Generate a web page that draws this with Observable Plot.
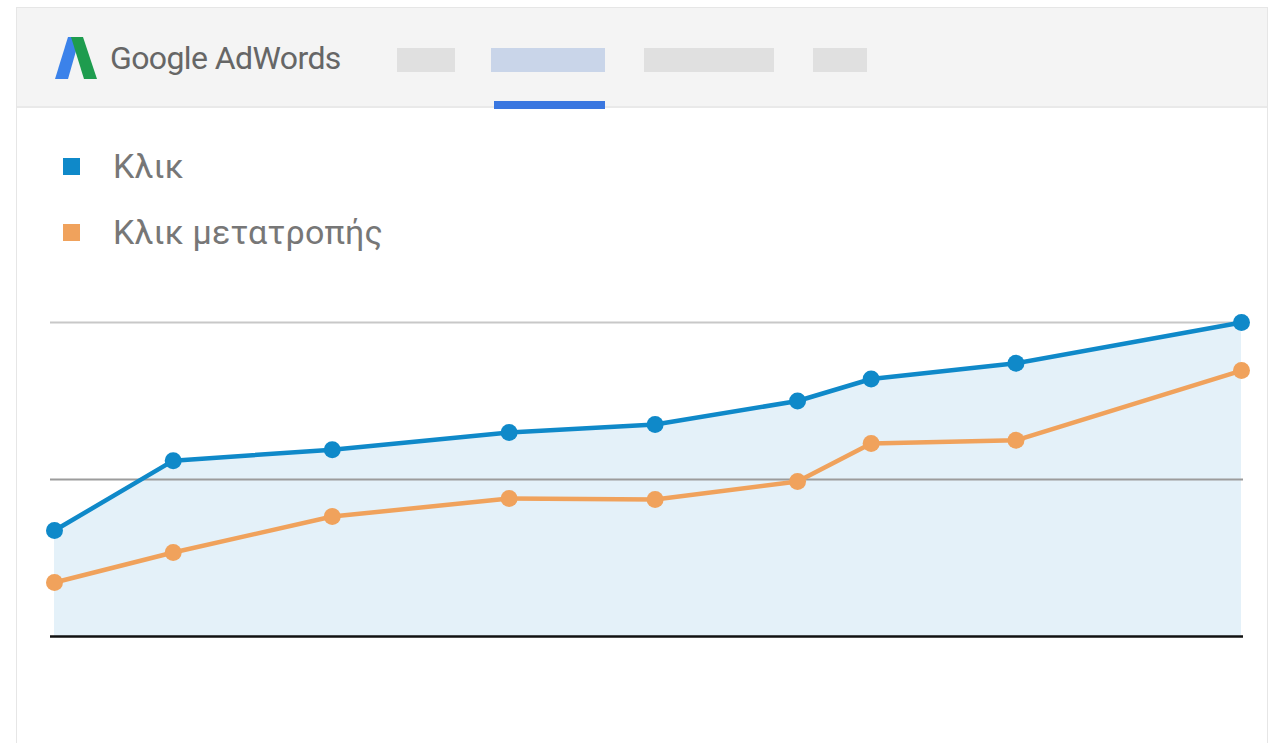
<!DOCTYPE html>
<html>
<head>
<meta charset="utf-8">
<script src="https://cdn.jsdelivr.net/npm/d3@7"></script>
<script src="https://cdn.jsdelivr.net/npm/@observablehq/plot@0.6"></script>
<style>
  html, body { margin: 0; padding: 0; background: #fff; width: 1276px; height: 743px; overflow: hidden; font-family: Roboto, "Noto Sans", sans-serif; }
  #card { position: absolute; left: 16px; top: 7px; width: 1252px; height: 760px; border: 1px solid #e6e6e6; box-sizing: border-box; background: #fff; }
  #header { position: absolute; left: 17px; top: 8px; width: 1250px; height: 98px; background: #f4f4f4; border-bottom: 2px solid #e9e9e9; }
  .ph { position: absolute; top: 48px; height: 24px; background: #e0e0e0; }
  #brand { position: absolute; left: 110px; top: 38px; font-size: 32px; color: #666; letter-spacing: -0.6px; line-height: 40px; }
  #tabline { position: absolute; left: 494px; top: 101px; width: 111px; height: 8px; background: #3a77e0; }
  .leg { position: absolute; left: 63px; display: flex; align-items: center; }
  .leg .sw { width: 17px; height: 17px; margin-right: 33px; }
  .leg .tx { font-size: 34px; color: #777; line-height: 40px; letter-spacing: 0.2px; }
  #chart { position: absolute; left: 0; top: 290px; }
</style>
</head>
<body>
<div id="card"></div>
<div id="header"></div>
<svg style="position:absolute;left:54px;top:36px" width="46" height="46" viewBox="0 0 46 46">
  <polygon points="1,43 14,1 26,1 14,43" fill="#3b82ea"/>
  <polygon points="17,1 29,1 43,43 30,43" fill="#1e9c4e"/>
</svg>
<div id="brand">Google AdWords</div>
<div class="ph" style="left:397px;width:58px"></div>
<div class="ph" style="left:491px;width:114px;background:#c9d5e9"></div>
<div class="ph" style="left:644px;width:130px"></div>
<div class="ph" style="left:813px;width:54px"></div>
<div id="tabline"></div>
<div class="leg" style="top:146px"><div class="sw" style="background:#0f89c9"></div><div class="tx">Κλικ</div></div>
<div class="leg" style="top:212px"><div class="sw" style="background:#f0a25c"></div><div class="tx">Κλικ μετατροπής</div></div>
<div id="chart"></div>
<script>
const periods = [0, 1.0, 2.34, 3.83, 5.06, 6.26, 6.88, 8.1, 10];
const clicks = [67.5, 112, 119, 130, 135, 150, 164, 174, 200];
const conversions = [34.4, 53.5, 76.4, 87.9, 87.3, 98.7, 123, 125, 169.4];
const gridValues = [100, 200];
const seriesNames = ["Κλικ", "Κλικ μετατροπής"];

const clickData = periods.map((p, i) => ({p, v: clicks[i], s: seriesNames[0]}));
const convData = periods.map((p, i) => ({p, v: conversions[i], s: seriesNames[1]}));

const chart = Plot.plot({
  width: 1276,
  height: 453,
  marginLeft: 50,
  marginRight: 33,
  marginTop: 32,
  marginBottom: 107,
  x: {domain: [0, 10], axis: null, insetLeft: 4, insetRight: 2},
  y: {domain: [0, 200], axis: null},
  style: {background: "transparent", overflow: "visible"},
  marks: [
    Plot.areaY(clickData, {x: "p", y: "v", fill: "#e4f1f9"}),
    Plot.ruleY([gridValues[1]], {stroke: "#c8c8c8", strokeWidth: 2}),
    Plot.ruleY([gridValues[0]], {stroke: "#9c9c9c", strokeWidth: 2}),
    Plot.ruleY([0], {stroke: "#111", strokeWidth: 2.5}),
    Plot.line(convData, {x: "p", y: "v", stroke: "#f0a25c", strokeWidth: 4.5}),
    Plot.dot(convData, {x: "p", y: "v", fill: "#f0a25c", r: 8.5}),
    Plot.line(clickData, {x: "p", y: "v", stroke: "#0f89c9", strokeWidth: 4.5}),
    Plot.dot(clickData, {x: "p", y: "v", fill: "#0f89c9", r: 8.5})
  ]
});
document.getElementById("chart").appendChild(chart);
</script>
</body>
</html>
